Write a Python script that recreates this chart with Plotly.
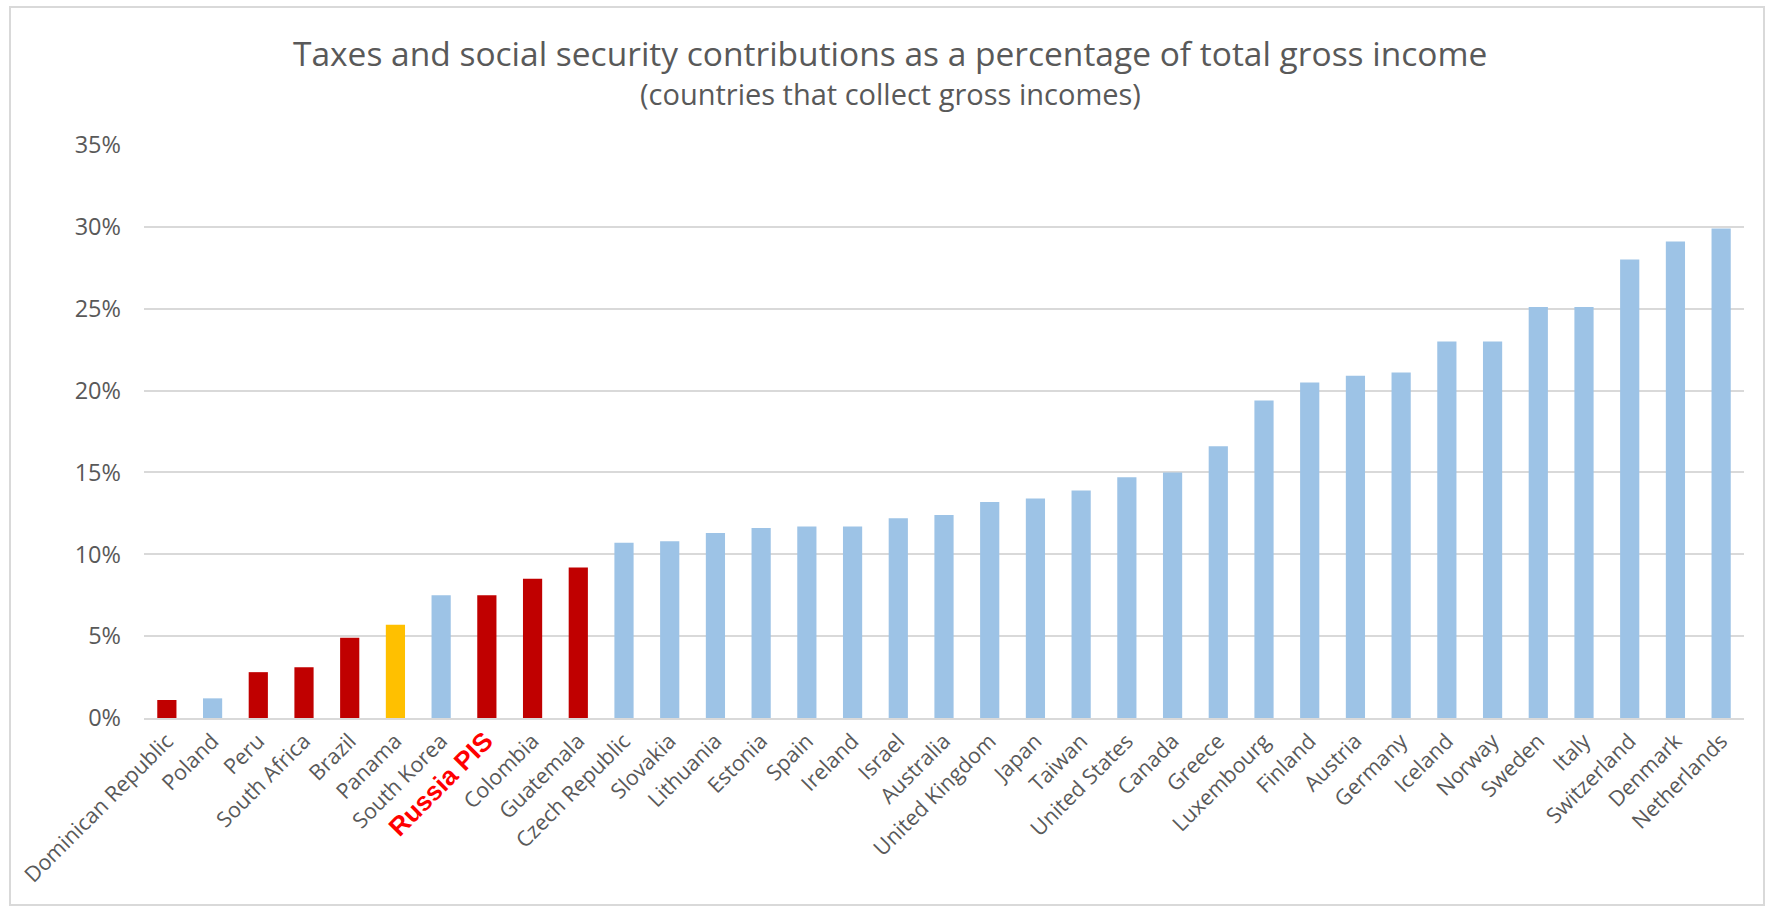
import plotly.graph_objects as go

countries = ["Dominican Republic", "Poland", "Peru", "South Africa", "Brazil", "Panama",
             "South Korea", "Russia PIS", "Colombia", "Guatemala", "Czech Republic", "Slovakia",
             "Lithuania", "Estonia", "Spain", "Ireland", "Israel", "Australia", "United Kingdom",
             "Japan", "Taiwan", "United States", "Canada", "Greece", "Luxembourg", "Finland",
             "Austria", "Germany", "Iceland", "Norway", "Sweden", "Italy", "Switzerland",
             "Denmark", "Netherlands"]
values = [1.1, 1.2, 2.8, 3.1, 4.9, 5.7, 7.5, 7.5, 8.5, 9.2, 10.7, 10.8, 11.3, 11.6, 11.7, 11.7,
          12.2, 12.4, 13.2, 13.4, 13.9, 14.7, 15.0, 16.6, 19.4, 20.5, 20.9, 21.1, 23.0, 23.0,
          25.1, 25.1, 28.0, 29.1, 29.9]
groups = ["red", "blue", "red", "red", "red", "yellow", "blue", "red", "red", "red"] + ["blue"] * 25
y_ticks = [0, 5, 10, 15, 20, 25, 30, 35]

palette = {"red": "#C00000", "blue": "#9DC3E6", "yellow": "#FFC000"}
colors = [palette[g] for g in groups]

ticktext = []
for c in countries:
    if c == "Russia PIS":
        ticktext.append("<span style='font-family:Liberation Sans, Arial; font-size:26px; color:#FF0000'><b>Russia PIS</b></span>")
    else:
        ticktext.append(c)

FONT = "Open Sans"
W, H = 1767, 907
ml, mr, mt, mb = 144, 23, 145, 189
pw, ph = W - ml - mr, H - mt - mb

fig = go.Figure(go.Bar(
    x=countries, y=[v / 100 for v in values],
    marker=dict(color=colors, line=dict(width=0)),
    width=0.42,
))

def px_x(p):
    return (p - ml) / pw

def px_y(p):
    return 1 - (p - mt) / ph

fig.update_layout(
    width=W, height=H,
    margin=dict(l=ml, r=mr, t=mt, b=mb),
    paper_bgcolor="white", plot_bgcolor="white",
    font=dict(family=FONT, color="#595959"),
    showlegend=False,
    xaxis=dict(
        tickmode="array", tickvals=countries, ticktext=ticktext,
        tickangle=-45, tickfont=dict(size=21.5, color="#595959", family=FONT),
        showgrid=False, showline=True, linecolor="#D9D9D9", linewidth=2,
        ticks="", range=[-0.5, len(countries) - 0.5],
    ),
    yaxis=dict(
        range=[0, 0.35], tickvals=[t / 100 for t in y_ticks],
        ticktext=[f"{t}%" for t in y_ticks],
        tickfont=dict(size=23.5, color="#595959", family=FONT),
        showgrid=True, gridcolor="#D9D9D9", gridwidth=2,
        zeroline=False, showline=False, ticks="", ticklabelstandoff=22,
    ),
    annotations=[
        dict(text="Taxes and social security contributions as a percentage of total gross income",
             x=px_x(890), y=px_y(53), xref="paper", yref="paper", showarrow=False,
             font=dict(size=33.5, color="#595959", family=FONT), xanchor="center", yanchor="middle"),
        dict(text="(countries that collect gross incomes)",
             x=px_x(890), y=px_y(94), xref="paper", yref="paper", showarrow=False,
             font=dict(size=29, color="#595959", family=FONT), xanchor="center", yanchor="middle"),
    ],
    shapes=[
        dict(type="rect", xref="paper", yref="paper",
             x0=px_x(10), x1=px_x(1764), y0=px_y(905), y1=px_y(7),
             line=dict(color="#D9D9D9", width=2), fillcolor="rgba(0,0,0,0)", layer="below"),
    ],
)

fig.write_html("out.html", config={"displayModeBar": False},
               post_script="document.body.style.margin='0';document.body.style.overflow='hidden';")
